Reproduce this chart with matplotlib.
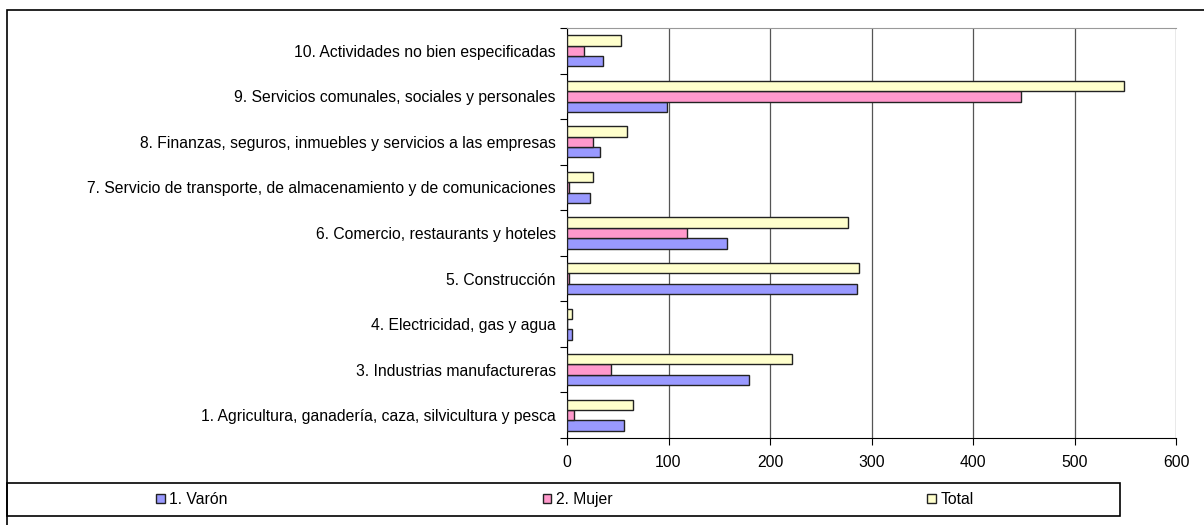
import numpy as np
import matplotlib
matplotlib.use("Agg")
from matplotlib import pyplot as plt
from matplotlib.patches import Rectangle

plt.rcParams['font.family'] = ['Liberation Sans', 'DejaVu Sans']

# Categories (bottom to top)
categories = [
    "1. Agricultura, ganadería, caza, silvicultura y pesca",
    "3. Industrias manufactureras",
    "4. Electricidad, gas y agua",
    "5. Construcción",
    "6. Comercio, restaurants y hoteles",
    "7. Servicio de transporte, de almacenamiento y de comunicaciones",
    "8. Finanzas, seguros, inmuebles y servicios a las empresas",
    "9. Servicios comunales, sociales y personales",
    "10. Actividades no bien especificadas",
]
varon = [56, 179, 5, 286, 158, 23, 33, 99, 35]
mujer = [7, 43, 0, 2, 118, 2, 26, 447, 17]
total = [65, 222, 5, 288, 277, 26, 59, 549, 53]

series_names = ["1. Varón", "2. Mujer", "Total"]
colors = ["#9999FF", "#FF99CC", "#FFFFCC"]

fs = 11.3

fig = plt.figure(figsize=(12.04, 5.25), dpi=100)
ax = fig.add_axes([567 / 1204, 1 - 438 / 525, (1176 - 567) / 1204, (438 - 28) / 525])

y = np.arange(len(categories))
h = 0.227
for i, (vals, name, c) in enumerate(zip([varon, mujer, total], series_names, colors)):
    ax.barh(y + (i - 1) * h, vals, height=h, color=c, edgecolor="#222222",
            linewidth=1.0, label=name, zorder=3)

ax.set_xlim(0, 600)
ax.set_ylim(-0.5, len(categories) - 0.5)
ax.set_xticks(np.arange(0, 601, 100))
ax.xaxis.grid(True, color="#555555", linewidth=0.9, zorder=0)

# category boundaries as major ticks, labels at centres
ax.set_yticks(np.arange(-0.5, len(categories), 1.0))
ax.set_yticklabels([])
ax.set_yticks(y, minor=True)
ax.set_yticklabels(categories, minor=True)
ax.tick_params(axis="y", which="major", length=5, direction="out", color="black")
ax.tick_params(axis="y", which="minor", length=0, pad=8, labelsize=fs)
ax.tick_params(axis="x", length=5, direction="out", pad=7, labelsize=fs)

ax.spines["top"].set_color("#999999")
ax.spines["right"].set_visible(False)
ax.spines["left"].set_color("black")
ax.spines["bottom"].set_color("black")

# outer chart border
fig.patches.append(Rectangle((7 / 1204, -0.1), 1.2, 1.1 - 10 / 525,
                             transform=fig.transFigure, fill=False,
                             edgecolor="black", linewidth=1.2))

# legend box
fig.patches.append(Rectangle((7 / 1204, 1 - 516 / 525), (1120 - 7) / 1204, 33 / 525,
                             transform=fig.transFigure, fill=False,
                             edgecolor="black", linewidth=1.2))
handles, labels = ax.get_legend_handles_labels()
fig.legend(handles, labels, loc="center left", ncol=3, frameon=False,
           bbox_to_anchor=(156 / 1204, 1 - 499.5 / 525), fontsize=fs,
           handlelength=0.55, handleheight=0.55, handletextpad=0.3,
           columnspacing=20.05, borderaxespad=0, borderpad=0)

fig.savefig("out.png", dpi=100)
